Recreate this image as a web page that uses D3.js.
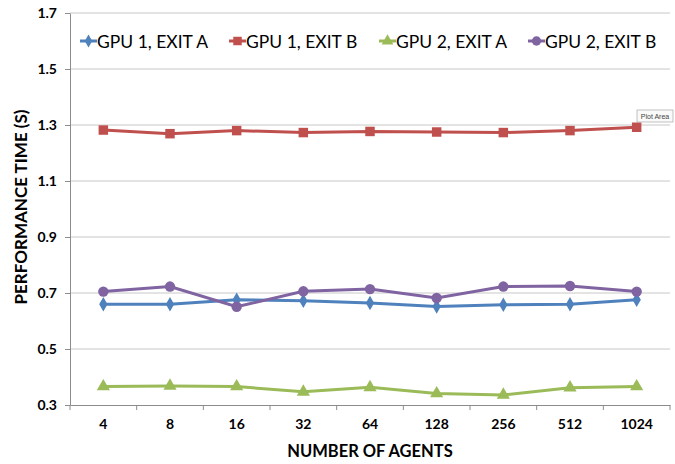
<!DOCTYPE html>
<html>
<head>
<meta charset="utf-8">
<script src="https://cdn.jsdelivr.net/npm/d3@7"></script>
<style>
  body { margin: 0; background: #fff; }
  svg { font-family: Lato, "Open Sans", sans-serif; }
</style>
</head>
<body>
<svg id="chart" width="675" height="464"></svg>
<script>
const agents = ["4", "8", "16", "32", "64", "128", "256", "512", "1024"];
const yTicks = [0.3, 0.5, 0.7, 0.9, 1.1, 1.3, 1.5, 1.7];

const gpu1ExitA = [0.660, 0.660, 0.676, 0.672, 0.664, 0.652, 0.658, 0.660, 0.676];
const gpu1ExitB = [1.282, 1.269, 1.280, 1.273, 1.277, 1.275, 1.273, 1.280, 1.292];
const gpu2ExitA = [0.366, 0.368, 0.366, 0.347, 0.363, 0.341, 0.336, 0.362, 0.366];
const gpu2ExitB = [0.705, 0.723, 0.651, 0.706, 0.714, 0.682, 0.723, 0.725, 0.705];

const series = [
  {name: "GPU 1, EXIT A", values: gpu1ExitA, color: "#4F81BD", symbol: d3.symbolDiamond, size: 60},
  {name: "GPU 1, EXIT B", values: gpu1ExitB, color: "#C0504D", symbol: d3.symbolSquare, size: 90},
  {name: "GPU 2, EXIT A", values: gpu2ExitA, color: "#9BBB59", symbol: d3.symbolTriangle, size: 75},
  {name: "GPU 2, EXIT B", values: gpu2ExitB, color: "#8064A2", symbol: d3.symbolCircle, size: 85}
];

const margin = {top: 13, right: 5, bottom: 59, left: 70};
const width = 675 - margin.left - margin.right;
const height = 464 - margin.top - margin.bottom;

const svg = d3.select("#chart");
const g = svg.append("g")
  .attr("transform", "translate(" + margin.left + "," + margin.top + ")");

const x = d3.scaleBand().domain(agents).range([0, 600]);
const y = d3.scaleLinear().domain([0.3, 1.7]).range([height, 0]);

// gridlines
g.selectAll(".grid")
  .data(yTicks.slice(1))
  .enter().append("line")
  .attr("x1", 0).attr("x2", 600)
  .attr("y1", d => y(d)).attr("y2", d => y(d))
  .attr("stroke", "#c8c8c8").attr("stroke-width", 1);

// y axis
const yAxis = g.append("g")
  .call(d3.axisLeft(y).tickValues(yTicks).tickFormat(d3.format(".1f")).tickSize(5).tickSizeOuter(0));
yAxis.select(".domain").attr("stroke", "#8c8c8c");
yAxis.selectAll(".tick line").attr("stroke", "#8c8c8c");
yAxis.selectAll("text")
  .attr("x", -13)
  .attr("font-size", 14).attr("font-weight", "bold").attr("fill", "#000")
  .attr("font-family", "Lato, sans-serif");

// x axis
const xAxis = g.append("g")
  .attr("transform", "translate(0," + height + ")")
  .call(d3.axisBottom(x).tickSize(0).tickSizeOuter(0).tickPadding(14));
xAxis.select(".domain").attr("stroke", "#8c8c8c");
xAxis.selectAll("text")
  .attr("font-size", 14).attr("font-weight", "bold").attr("fill", "#000")
  .attr("font-family", "Lato, sans-serif");
g.selectAll(".xtick")
  .data(agents.concat(["end"]))
  .enter().append("line")
  .attr("x1", (d, i) => i * x.step()).attr("x2", (d, i) => i * x.step())
  .attr("y1", height).attr("y2", height + 5)
  .attr("stroke", "#8c8c8c");

// axis titles
svg.append("text")
  .attr("x", margin.left + 300).attr("y", 457)
  .attr("text-anchor", "middle")
  .attr("font-size", 16.5).attr("font-weight", "bold")
  .text("NUMBER OF AGENTS");

svg.append("text")
  .attr("transform", "translate(27," + (margin.top + y(1.0) - 2) + ") rotate(-90)")
  .attr("text-anchor", "middle")
  .attr("font-size", 17).attr("font-weight", "bold")
  .text("PERFORMANCE TIME (S)");

// lines and markers
const line = d3.line()
  .x((d, i) => x(agents[i]) + x.bandwidth() / 2)
  .y(d => y(d));

series.forEach(s => {
  g.append("path")
    .datum(s.values)
    .attr("fill", "none")
    .attr("stroke", s.color)
    .attr("stroke-width", 3)
    .attr("d", line);

  g.selectAll(null)
    .data(s.values)
    .enter().append("path")
    .attr("d", d3.symbol().type(s.symbol).size(s.size))
    .attr("transform", (d, i) => "translate(" + (x(agents[i]) + x.bandwidth() / 2) + "," + y(d) + ")")
    .attr("fill", s.color);
});

// legend
const legendX = [80, 229, 379, 528];
const legend = svg.append("g");
series.forEach((s, i) => {
  const lg = legend.append("g").attr("transform", "translate(" + legendX[i] + ",41)");
  lg.append("line").attr("x1", 0).attr("x2", 17).attr("y1", 0).attr("y2", 0)
    .attr("stroke", s.color).attr("stroke-width", 3);
  lg.append("path")
    .attr("d", d3.symbol().type(s.symbol).size(s.size * 0.8))
    .attr("transform", "translate(8.5,0)")
    .attr("fill", s.color);
  lg.append("text")
    .attr("x", 17).attr("y", 6.5)
    .attr("font-size", 17.5)
    .text(s.name);
});

// hover tooltip left in the picture
const tip = svg.append("g").attr("transform", "translate(637,110)");
tip.append("rect").attr("x", 0).attr("y", 0).attr("width", 36).attr("height", 12)
  .attr("fill", "#fafafa").attr("stroke", "#9a9a9a").attr("stroke-width", 0.6);
tip.append("text").attr("x", 18).attr("y", 9).attr("text-anchor", "middle")
  .attr("font-size", 7).attr("fill", "#444").attr("font-family", "Liberation Sans, sans-serif")
  .text("Plot Area");
</script>
</body>
</html>
